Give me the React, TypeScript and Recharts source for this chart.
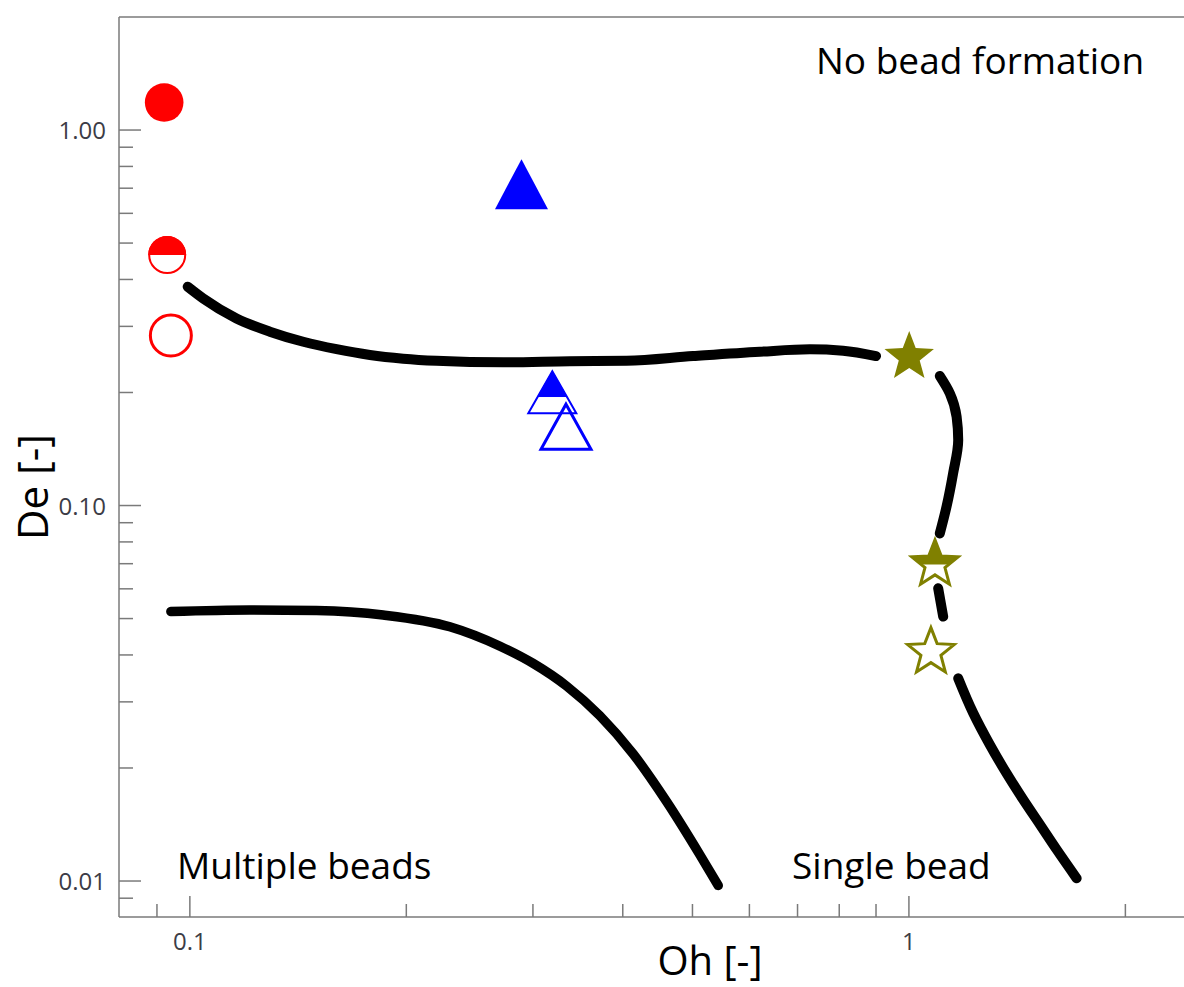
import React from 'react';
import {
  ComposedChart,
  XAxis,
  YAxis,
  Line,
  Scatter,
  ReferenceLine,
  Customized,
} from 'recharts';

const FONT = "'Open Sans', sans-serif";

// axes (log-log)
const ohDomain = [0.0797, 2.413];
const deDomain = [0.00802, 2.0];
const ohMajor = [0.1, 1];
const ohMinor = [0.09, 0.2, 0.3, 0.4, 0.5, 0.6, 0.7, 0.8, 0.9, 2];
const deMajor = [0.01, 0.1, 1];
const deMinor = [
  0.009, 0.02, 0.03, 0.04, 0.05, 0.06, 0.07, 0.08, 0.09,
  0.2, 0.3, 0.4, 0.5, 0.6, 0.7, 0.8, 0.9,
];
const ohTickLabels: Record<string, string> = { '0.1': '0.1', '1': '1' };
const deTickLabels: Record<string, string> = { '0.01': '0.01', '0.1': '0.10', '1': '1.00' };

// regime boundaries
const upperLeftOh = [
  0.0993, 0.1043, 0.1161, 0.1292, 0.1438, 0.16, 0.178, 0.198, 0.2203, 0.2727, 0.3377, 0.405,
  0.501, 0.6204, 0.7283, 0.81, 0.9,
];
const upperLeftDe = [
  0.3825, 0.3562, 0.315, 0.2904, 0.273, 0.2608, 0.2517, 0.2461, 0.2429, 0.2406, 0.2423, 0.243,
  0.2501, 0.2568, 0.2606, 0.2584, 0.25,
];
// right branch, null = gap around a star
const upperRightOh = [
  1.104, 1.14, 1.165, 1.171, 1.152, 1.128, 1.104, 1.1, 1.0983, 1.116, 1.13,
  1.171, 1.2285, 1.2965, 1.3673, 1.4417, 1.5212, 1.6048, 1.711,
];
const upperRightDe = [
  0.2213, 0.199, 0.1724, 0.1494, 0.1218, 0.0993, 0.0843, null, 0.0602, 0.0506, null,
  0.03466, 0.02802, 0.02303, 0.01934, 0.01648, 0.01414, 0.01213, 0.01017,
];
const lowerOh = [0.0941, 0.1212, 0.15, 0.1857, 0.2299, 0.27, 0.3002, 0.3342, 0.3717, 0.4136, 0.4603, 0.5121, 0.543];
const lowerDe = [0.0522, 0.0527, 0.0525, 0.0511, 0.04755, 0.0422, 0.03797, 0.03304, 0.02755, 0.02179, 0.01627, 0.01174, 0.00973];

// measured points
const circleOh = [0.0921, 0.093, 0.0941];
const circleDe = [1.184, 0.4647, 0.2836];
const triangleOh = [0.2892, 0.3192, 0.3335];
const triangleDe = [0.7175, 0.2002, 0.1622];
const starOh = [1.001, 1.087, 1.073];
const starDe = [0.2486, 0.0697, 0.0407];
const fillKinds = ['full', 'half', 'open'];

const upperLeft = upperLeftOh.map((oh, i) => ({ oh, de: upperLeftDe[i] }));
const upperRight = upperRightOh.map((oh, i) => ({ oh, de: upperRightDe[i] }));
const lower = lowerOh.map((oh, i) => ({ oh, de: lowerDe[i] }));
const circles = circleOh.map((oh, i) => ({ oh, de: circleDe[i], kind: fillKinds[i] }));
const triangles = triangleOh.map((oh, i) => ({ oh, de: triangleDe[i], kind: fillKinds[i] }));
const stars = starOh.map((oh, i) => ({ oh, de: starDe[i], kind: fillKinds[i] }));

const RED = '#ff0000';
const BLUE = '#0000ff';
const OLIVE = '#808000';
const AXIS = '#7a7a7a';
const TICK_TEXT = '#3c3c46';

function XTick({ x, y, payload }: any) {
  const key = String(payload.value);
  const major = key in ohTickLabels;
  return (
    <g>
      <line x1={x} x2={x} y1={y} y2={y - (major ? 21 : 13)} stroke={AXIS} strokeWidth={1.5} />
      {major && (
        <text x={x} y={y + 33} textAnchor="middle" fontSize={24} fontFamily={FONT} fill={TICK_TEXT}>
          {ohTickLabels[key]}
        </text>
      )}
    </g>
  );
}

function YTick({ x, y, payload }: any) {
  const key = String(payload.value);
  const major = key in deTickLabels;
  return (
    <g>
      <line x1={x} x2={x + (major ? 22 : 14)} y1={y} y2={y} stroke={AXIS} strokeWidth={1.5} />
      {major && (
        <text x={x - 13} y={y + 9} textAnchor="end" fontSize={24} fontFamily={FONT} fill={TICK_TEXT}>
          {deTickLabels[key]}
        </text>
      )}
    </g>
  );
}

function CircleShape({ cx, cy, payload }: any) {
  if (payload.kind === 'full') return <circle cx={cx} cy={cy} r={19.3} fill={RED} />;
  if (payload.kind === 'half') {
    const r = 18;
    return (
      <g>
        <circle cx={cx} cy={cy} r={r} fill="#fff" stroke={RED} strokeWidth={2} />
        <path d={`M${cx - r - 1},${cy} A${r + 1},${r + 1} 0 0 1 ${cx + r + 1},${cy} Z`} fill={RED} />
      </g>
    );
  }
  return <circle cx={cx} cy={cy} r={20.5} fill="none" stroke={RED} strokeWidth={3} />;
}

function TriangleShape({ cx, cy, payload }: any) {
  const big = payload.kind === 'full';
  const w = payload.kind === 'half' ? 48 : big ? 53 : 50;
  const h = payload.kind === 'half' ? 42 : big ? 50 : 45;
  const top = cy - h / 2;
  const bot = cy + h / 2;
  const pts = `${cx},${top} ${cx + w / 2},${bot} ${cx - w / 2},${bot}`;
  if (big) return <polygon points={pts} fill={BLUE} />;
  if (payload.kind === 'half') {
    const f = 0.6;
    const yc = top + h * f;
    const hw = (w / 2) * f;
    return (
      <g>
        <polygon points={pts} fill="none" stroke={BLUE} strokeWidth={2} />
        <polygon points={`${cx},${top} ${cx + hw},${yc} ${cx - hw},${yc}`} fill={BLUE} stroke={BLUE} strokeWidth={1} />
      </g>
    );
  }
  return <polygon points={pts} fill="none" stroke={BLUE} strokeWidth={3} />;
}

function starPoints(cx: number, cy: number, R: number, r: number) {
  const pts: string[] = [];
  for (let i = 0; i < 10; i++) {
    const a = -Math.PI / 2 + (i * Math.PI) / 5;
    const rad = i % 2 === 0 ? R : r;
    pts.push(`${cx + rad * Math.cos(a)},${cy + rad * Math.sin(a)}`);
  }
  return pts.join(' ');
}

function StarShape({ cx, cy, payload, index }: any) {
  const R = 26;
  const r = 11;
  if (payload.kind === 'full') return <polygon points={starPoints(cx, cy, R, r)} fill={OLIVE} />;
  if (payload.kind === 'half') {
    const id = `star-half-${index}`;
    return (
      <g>
        <defs>
          <clipPath id={id}>
            <rect x={cx - R - 2} y={cy - R - 2} width={2 * R + 4} height={R + 2} />
          </clipPath>
        </defs>
        <polygon points={starPoints(cx, cy, R - 1.5, r - 0.5)} fill="#fff" stroke={OLIVE} strokeWidth={3} />
        <polygon points={starPoints(cx, cy, R, r)} fill={OLIVE} clipPath={`url(#${id})`} />
      </g>
    );
  }
  return <polygon points={starPoints(cx, cy, R - 1.5, r - 0.5)} fill="#fff" stroke={OLIVE} strokeWidth={3} />;
}

function Annotations() {
  return (
    <g fontFamily={FONT} fill="#000">
      <text x={816} y={74} fontSize={37}>No bead formation</text>
      <text x={177} y={879} fontSize={37}>Multiple beads</text>
      <text x={792} y={879} fontSize={37}>Single bead</text>
      <text x={710} y={975} fontSize={40} textAnchor="middle">Oh [-]</text>
      <text x={48} y={487} fontSize={42} textAnchor="middle" transform="rotate(-90 48 487)">De [-]</text>
    </g>
  );
}

const lineProps = {
  dataKey: 'de',
  stroke: '#000',
  strokeLinecap: 'round' as const,
  dot: false,
  activeDot: false,
  connectNulls: false,
  isAnimationActive: false,
};

export default function App() {
  return (
    <div style={{ position: 'absolute', left: 0, top: 0, background: '#fff' }}>
      <ComposedChart width={1184} height={987} margin={{ top: 17, right: 0, bottom: 0, left: 0 }}>
        <XAxis
          dataKey="oh"
          type="number"
          scale="log"
          domain={ohDomain}
          allowDataOverflow
          ticks={[...ohMinor, ...ohMajor].sort((a, b) => a - b)}
          interval={0}
          tick={<XTick />}
          tickLine={false}
          tickSize={0}
          tickMargin={0}
          height={70}
          axisLine={{ stroke: AXIS, strokeWidth: 1.5 }}
        />
        <YAxis
          dataKey="de"
          type="number"
          scale="log"
          domain={deDomain}
          allowDataOverflow
          ticks={[...deMinor, ...deMajor].sort((a, b) => a - b)}
          interval={0}
          tick={<YTick />}
          tickLine={false}
          tickSize={0}
          tickMargin={0}
          width={119}
          axisLine={{ stroke: AXIS, strokeWidth: 1.5 }}
        />
        <ReferenceLine y={deDomain[1]} stroke={AXIS} strokeWidth={1.5} ifOverflow="visible" />
        <Line {...lineProps} data={upperLeft} type="monotoneX" strokeWidth={10} />
        <Line {...lineProps} data={upperRight} type="monotoneY" strokeWidth={10} />
        <Line {...lineProps} data={lower} type="monotoneX" strokeWidth={9.5} />
        <Scatter data={circles} dataKey="de" shape={<CircleShape />} isAnimationActive={false} />
        <Scatter data={triangles} dataKey="de" shape={<TriangleShape />} isAnimationActive={false} />
        <Scatter data={stars} dataKey="de" shape={<StarShape />} isAnimationActive={false} />
        <Customized component={<Annotations />} />
      </ComposedChart>
    </div>
  );
}
